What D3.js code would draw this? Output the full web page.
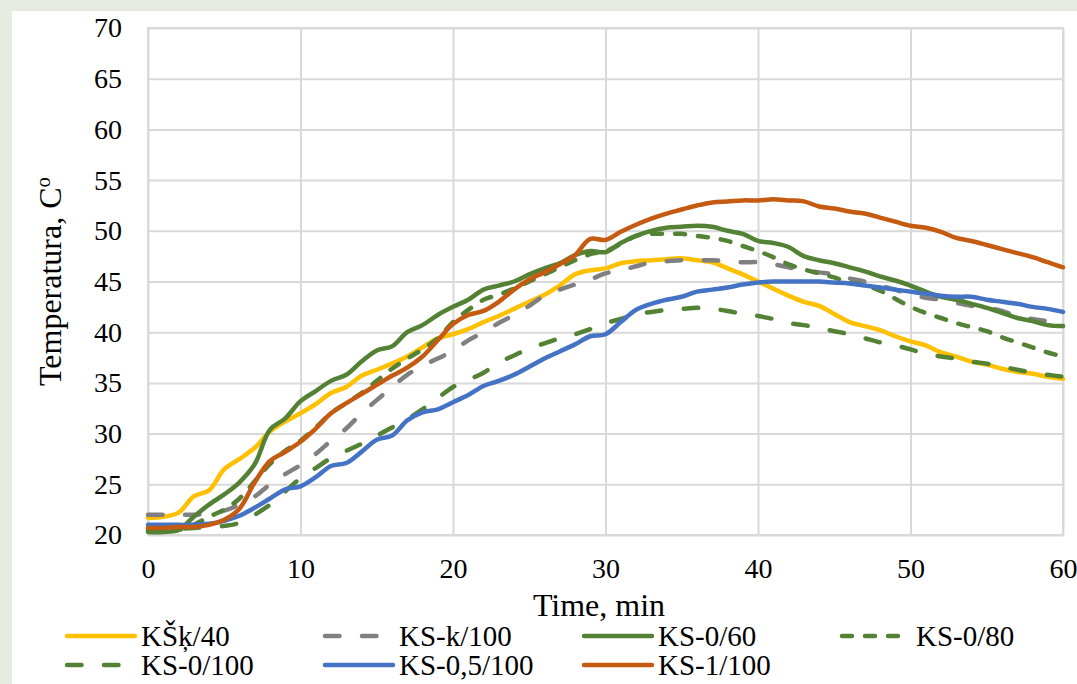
<!DOCTYPE html>
<html><head><meta charset="utf-8">
<script src="https://cdn.jsdelivr.net/npm/d3@7"></script>
<style>
html,body{margin:0;padding:0;background:#fff;}
svg{display:block;}
text{font-family:"Liberation Serif","Times New Roman",serif;fill:#000;}
</style></head>
<body>
<svg id="chart" width="1077" height="684"></svg>
<script>
const time = [0,1,2,3,4,5,6,7,8,9,10,11,12,13,14,15,16,17,18,19,20,21,22,23,24,25,26,27,28,29,30,31,32,33,34,35,36,37,38,39,40,41,42,43,44,45,46,47,48,49,50,51,52,53,54,55,56,57,58,59,60];
const xTicks = [0,10,20,30,40,50,60];
const yTicks = [20,25,30,35,40,45,50,55,60,65,70];
const seriesNames = ["KŠķ/40","KS-k/100","KS-0/60","KS-0/80","KS-0/100","KS-0,5/100","KS-1/100"];

const kSk40 = [21.7,21.8,22.2,23.8,24.4,26.5,27.5,28.6,30.2,31.2,32.0,32.9,34.0,34.6,35.7,36.3,36.9,37.6,38.5,39.4,39.8,40.3,41.0,41.6,42.3,43.0,43.7,44.6,45.7,46.1,46.3,46.8,47.0,47.1,47.2,47.3,47.1,46.9,46.3,45.7,45.0,44.3,43.6,43.0,42.6,41.8,41.0,40.6,40.2,39.6,39.1,38.7,38.0,37.6,37.1,36.8,36.4,36.1,35.9,35.6,35.4];
const ksK100 = [22.0,22.0,22.0,22.0,22.1,22.4,23.0,23.8,25.0,26.0,26.9,28.0,29.3,30.5,32.0,33.3,34.6,35.8,36.7,37.4,38.2,39.2,40.0,40.9,41.7,42.6,43.6,44.2,44.7,45.2,45.8,46.1,46.5,46.9,47.0,47.1,47.1,47.1,47.0,46.9,46.9,46.7,46.4,46.1,45.9,45.7,45.3,45.0,44.6,44.2,43.7,43.4,43.2,42.9,42.6,42.4,42.1,41.6,41.3,41.1,41.0];
const ks060 = [20.3,20.3,20.5,21.8,23.0,24.0,25.2,27.0,30.4,31.5,33.2,34.2,35.2,35.8,37.1,38.2,38.6,40.0,40.7,41.7,42.5,43.2,44.2,44.6,45.0,45.7,46.3,46.8,47.6,48.0,47.9,48.8,49.5,50.0,50.3,50.4,50.5,50.4,50.0,49.7,49.0,48.8,48.4,47.5,47.1,46.8,46.4,46.0,45.5,45.1,44.6,44.0,43.5,43.2,42.8,42.4,41.9,41.4,41.1,40.7,40.6];
const ks080 = [20.4,20.4,20.5,21.0,21.8,22.5,23.6,25.3,27.0,28.3,29.3,30.6,32.0,33.0,34.0,35.2,36.4,37.4,38.3,39.4,41.0,42.2,43.2,43.7,44.3,45.0,45.7,46.4,47.1,47.7,48.0,48.7,49.5,49.7,49.7,49.7,49.5,49.3,49.0,48.5,48.0,47.4,46.7,46.2,45.8,45.4,44.9,44.6,44.1,43.3,42.5,41.9,41.4,40.9,40.5,40.1,39.5,39.0,38.5,38.0,37.6];
const ks0100 = [20.5,20.5,20.6,20.7,20.8,20.9,21.2,22.0,23.0,24.3,25.6,26.6,27.6,28.3,29.0,29.8,30.6,31.4,32.4,33.5,34.6,35.3,36.0,37.0,37.7,38.4,38.9,39.4,39.8,40.3,40.9,41.3,41.8,42.0,42.2,42.3,42.4,42.3,42.1,41.8,41.6,41.3,40.9,40.7,40.4,40.1,39.8,39.4,39.0,38.7,38.3,37.9,37.6,37.4,37.1,36.9,36.6,36.3,36.0,35.8,35.6];
const ks05100 = [21.0,21.0,21.0,21.0,21.1,21.4,21.9,22.7,23.6,24.5,24.8,25.7,26.8,27.1,28.2,29.4,29.8,31.3,32.1,32.4,33.1,33.8,34.7,35.2,35.8,36.6,37.4,38.1,38.8,39.6,39.8,41.0,42.2,42.8,43.2,43.5,44.0,44.2,44.4,44.7,44.9,45.0,45.0,45.0,45.0,44.9,44.8,44.6,44.4,44.2,44.0,43.8,43.6,43.5,43.5,43.2,43.0,42.8,42.5,42.3,42.0];
const ks1100 = [20.7,20.7,20.8,20.8,21.0,21.5,22.6,25.2,27.3,28.2,29.2,30.5,32.0,33.0,33.9,34.8,35.7,36.5,37.6,39.2,40.8,41.7,42.1,43.0,44.2,45.2,45.9,46.7,47.6,49.2,49.1,49.9,50.6,51.2,51.7,52.1,52.5,52.8,52.9,53.0,53.0,53.1,53.0,52.9,52.4,52.2,51.9,51.7,51.3,50.9,50.5,50.3,49.9,49.3,49.0,48.6,48.2,47.8,47.4,46.9,46.4];

const seriesValues = [kSk40, ksK100, ks060, ks080, ks0100, ks05100, ks1100];
const seriesColors = ["#FFC000","#808080","#548235","#548235","#548235","#4472C4","#C55A11"];
const seriesDash = [null,"14.5,22.5",null,"10,13","14.5,22.5",null,null];

const svg = d3.select("#chart");
svg.append("rect").attr("width",1077).attr("height",684).attr("fill","#e6ebe1");
svg.append("rect").attr("x",12).attr("y",11).attr("width",1065).attr("height",673).attr("fill","#ffffff");

const L=148, R=1063, T=28, B=535;
const x = d3.scaleLinear().domain([0,60]).range([L,R]);
const y = d3.scaleLinear().domain([20,70]).range([B,T]);
const FS_TICK = 28, FS_LEG = 29, FS_TITLE = 32;

const gy = svg.append("g").attr("transform",`translate(${L},0)`)
  .call(d3.axisLeft(y).tickValues(yTicks).tickSize(-(R-L)).tickPadding(26).tickFormat(d3.format("d")));
gy.select(".domain").remove();
gy.selectAll("line").attr("stroke","#d9d9d9").attr("stroke-width",2);
gy.selectAll("text").attr("font-size",FS_TICK).attr("font-family","Liberation Serif").attr("fill","#000");

const gx = svg.append("g").attr("transform",`translate(0,${B})`)
  .call(d3.axisBottom(x).tickValues(xTicks).tickSize(-(B-T)).tickPadding(23).tickFormat(d3.format("d")));
gx.select(".domain").remove();
gx.selectAll("line").attr("stroke","#d9d9d9").attr("stroke-width",2);
gx.selectAll("text").attr("font-size",FS_TICK).attr("font-family","Liberation Serif").attr("fill","#000");

svg.append("rect").attr("x",L).attr("y",T).attr("width",R-L).attr("height",B-T)
  .attr("fill","none").attr("stroke","#d9d9d9").attr("stroke-width",2);

const line = d3.line().x((d,i)=>x(time[i])).y(d=>y(d)).curve(d3.curveCatmullRom.alpha(0.5));
seriesValues.forEach((vals,k)=>{
  const p = svg.append("path").datum(vals).attr("d",line)
    .attr("fill","none").attr("stroke",seriesColors[k]).attr("stroke-width",4.5)
    .attr("stroke-linejoin","round").attr("stroke-linecap","round");
  if(seriesDash[k]) p.attr("stroke-dasharray",seriesDash[k]);
});

svg.append("text").attr("x",599).attr("y",605).attr("dy","0.35em").attr("text-anchor","middle")
  .attr("font-size",FS_TITLE).text("Time, min");
const yt = svg.append("text").attr("transform",`translate(50,${(T+B)/2}) rotate(-90)`)
  .attr("text-anchor","middle").attr("dy","0.35em").attr("font-size",FS_TITLE);
yt.append("tspan").text("Temperatura, C");
yt.append("tspan").attr("font-size",FS_TITLE*0.65).attr("dy","-0.55em").text("o");

const legX = [65,323,582,840], legY = [636,665];
seriesNames.forEach((name,k)=>{
  const col = k%4, row = Math.floor(k/4);
  const lx = legX[col], ly = legY[row];
  const g = svg.append("g");
  const ln = g.append("line").attr("x1",lx+2).attr("x2",lx+70).attr("y1",ly).attr("y2",ly)
    .attr("stroke",seriesColors[k]).attr("stroke-width",4.5).attr("stroke-linecap","round");
  if(seriesDash[k]) ln.attr("stroke-dasharray",seriesDash[k]);
  g.append("text").attr("x",lx+76).attr("y",ly).attr("dy","0.35em").attr("font-size",FS_LEG).text(name);
});
</script>
</body></html>
